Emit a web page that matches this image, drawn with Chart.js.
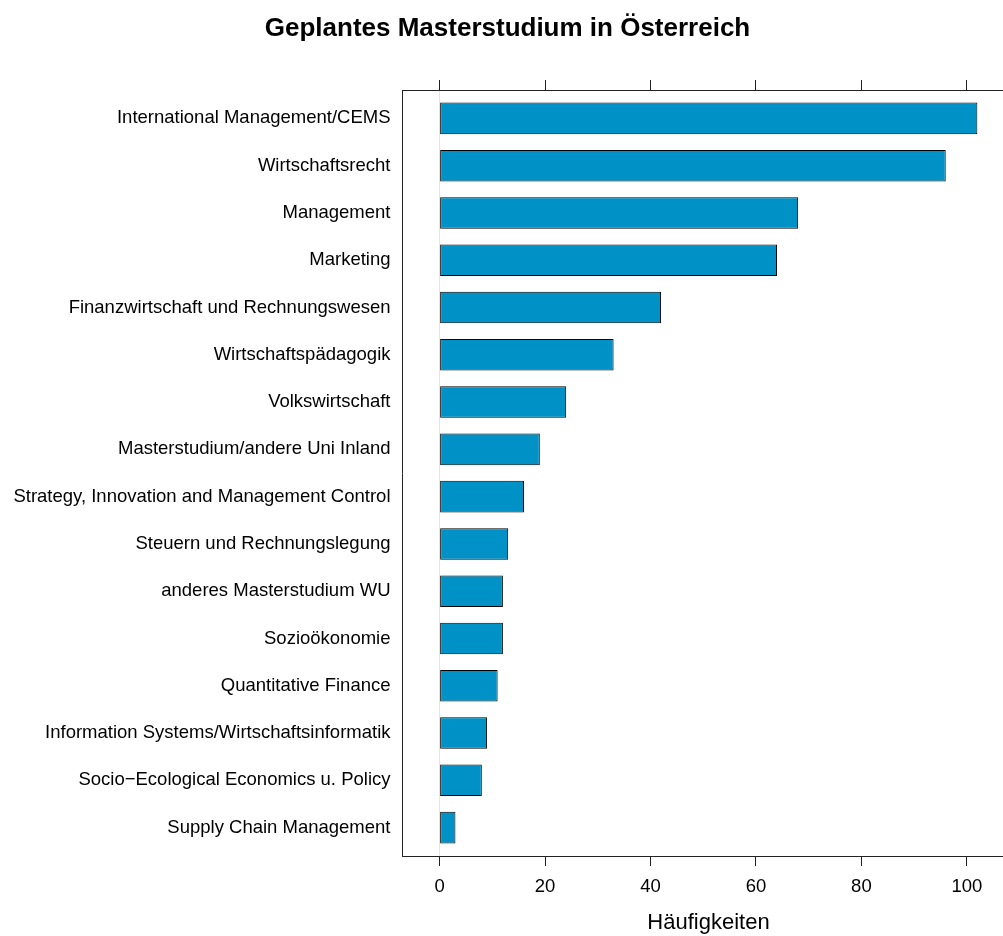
<!DOCTYPE html>
<html>
<head>
<meta charset="utf-8">
<script src="https://cdn.jsdelivr.net/npm/chart.js@4/dist/chart.umd.min.js"></script>
<style>
  html, body { margin: 0; padding: 0; overflow: hidden; background: #fff; }
  #wrap { position: relative; width: 1036px; height: 936px; }
</style>
</head>
<body>
<div id="wrap"><canvas id="c"></canvas></div>
<script>
const chartTitle = "Geplantes Masterstudium in Österreich";
const xAxisTitle = "Häufigkeiten";
const categories = [
  "International Management/CEMS",
  "Wirtschaftsrecht",
  "Management",
  "Marketing",
  "Finanzwirtschaft und Rechnungswesen",
  "Wirtschaftspädagogik",
  "Volkswirtschaft",
  "Masterstudium/andere Uni Inland",
  "Strategy, Innovation and Management Control",
  "Steuern und Rechnungslegung",
  "anderes Masterstudium WU",
  "Sozioökonomie",
  "Quantitative Finance",
  "Information Systems/Wirtschaftsinformatik",
  "Socio\u2212Ecological Economics u. Policy",
  "Supply Chain Management"
];
const counts = [102, 96, 68, 64, 42, 33, 24, 19, 16, 13, 12, 12, 11, 9, 8, 3];
const xTicks = [0, 20, 40, 60, 80, 100];
const xMin = -7.14, xMax = 109.14;
const yMin = -0.6, yMax = categories.length - 1 + 0.6;

const FONT = '"Liberation Sans", Arial, Helvetica, sans-serif';
const AXIS_COLOR = '#222';

const points = counts.map((v, i) => ({ x: v, y: i }));

new Chart(document.getElementById('c'), {
  type: 'bar',
  data: {
    datasets: [{
      data: points,
      backgroundColor: '#0091c6',
      borderColor: '#000',
      borderWidth: 1,
      borderSkipped: false,
      barPercentage: 0.667,
      categoryPercentage: 1.0
    }]
  },
  options: {
    indexAxis: 'y',
    responsive: true,
    maintainAspectRatio: false,
    animation: false,
    devicePixelRatio: 1,
    layout: { padding: { left: 0, right: 21, top: 0, bottom: 0 } },
    plugins: {
      legend: { display: false },
      tooltip: { enabled: false },
      title: {
        display: true,
        text: chartTitle,
        color: '#000',
        font: { family: FONT, size: 26, weight: 'bold', lineHeight: 1.2 },
        padding: { top: 13, bottom: 35.8 }
      }
    },
    scales: {
      x: {
        type: 'linear',
        position: 'bottom',
        min: xMin,
        max: xMax,
        offset: false,
        afterBuildTicks: s => { s.ticks = xTicks.map(v => ({ value: v })); },
        afterFit: s => { s.height = 80; },
        grid: {
          drawOnChartArea: true,
          drawTicks: true,
          offset: false,
          tickLength: 10,
          lineWidth: 1,
          color: ctx => (ctx.tick && ctx.tick.value === 0) ? '#e4e4e4' : 'rgba(0,0,0,0)',
          tickColor: AXIS_COLOR
        },
        border: { display: true, color: AXIS_COLOR, width: 1 },
        ticks: {
          color: '#000',
          padding: 10,
          maxRotation: 0,
          font: { family: FONT, size: 18.5, lineHeight: 1.2 }
        },
        title: {
          display: true,
          text: xAxisTitle,
          color: '#000',
          font: { family: FONT, size: 22, lineHeight: 1.2 },
          padding: { top: 0, bottom: 0 }
        }
      },
      x2: {
        type: 'linear',
        position: 'top',
        axis: 'x',
        min: xMin,
        max: xMax,
        offset: false,
        afterBuildTicks: s => { s.ticks = xTicks.map(v => ({ value: v })); },
        afterFit: s => { s.height = 10; },
        grid: {
          drawOnChartArea: false,
          drawTicks: true,
          offset: false,
          tickLength: 10,
          color: AXIS_COLOR,
          tickColor: AXIS_COLOR
        },
        border: { display: true, color: AXIS_COLOR, width: 1 },
        ticks: { display: false }
      },
      y: {
        type: 'linear',
        position: 'left',
        reverse: true,
        min: yMin,
        max: yMax,
        offset: false,
        afterBuildTicks: s => { s.ticks = categories.map((_, i) => ({ value: i })); },
        afterFit: s => { s.width = 402; },
        grid: { display: true, offset: false, drawOnChartArea: false, drawTicks: false },
        border: { display: true, color: AXIS_COLOR, width: 1 },
        ticks: {
          color: '#000',
          padding: 11.5,
          autoSkip: false,
          font: { family: FONT, size: 18.5, lineHeight: 1.2 },
          callback: v => categories[v] !== undefined ? categories[v] : ''
        }
      }
    }
  }
});
</script>
</body>
</html>
